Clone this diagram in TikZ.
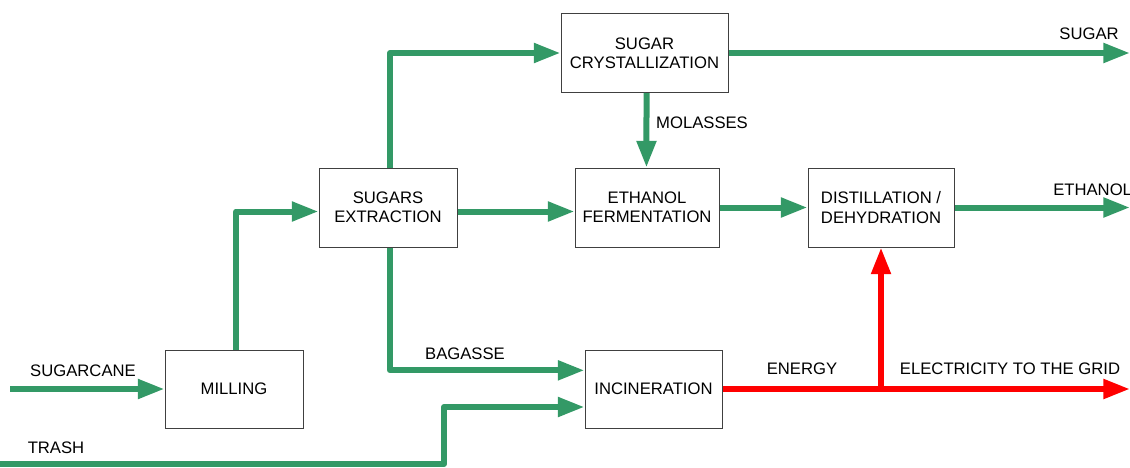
\documentclass[tikz,border=0pt]{standalone}
\usepackage{fontspec}
\setmainfont{Liberation Sans}
\usetikzlibrary{arrows.meta}
\definecolor{cane}{RGB}{51,153,102}
\tikzset{
  box/.style={draw=black!75, line width=0.75pt, fill=white, align=center,
    inner sep=2pt, font=\fontsize{12.5}{14.5}\selectfont},
  flow/.style={draw=cane, line width=4.5pt, line join=round,
    -{Triangle[length=20pt, width=14pt]}},
  power/.style={draw=red, line width=4.5pt,
    -{Triangle[length=20pt, width=14pt]}},
  lbl/.style={font=\fontsize{12.5}{14.5}\selectfont, inner sep=0pt}
}
\begin{document}
\begin{tikzpicture}[x=0.75pt, y=-0.75pt]
\useasboundingbox (0,0) rectangle (1130,467);
\clip (0,0) rectangle (1130,467);

% process boxes
\node[box, minimum width=103.5pt, minimum height=58.5pt] (milling) at (234,389) {MILLING};
\node[box, minimum width=103.5pt, minimum height=59.25pt] (extract) at (388,207.5) {SUGARS\\EXTRACTION};
\node[box, minimum width=125.25pt, minimum height=59.25pt] (cryst) at (644.5,53) {SUGAR\\CRYSTALLIZATION};
\node[box, minimum width=108pt, minimum height=59.25pt] (ferment) at (647,207.5) {ETHANOL\\FERMENTATION};
\node[box, minimum width=109.5pt, minimum height=59.25pt] (distil) at (881,207.5) {DISTILLATION /\\DEHYDRATION};
\node[box, minimum width=102.75pt, minimum height=58.5pt] (incin) at (653.5,389) {INCINERATION};

% free ends
\coordinate (canein) at (10,389);
\coordinate (trashin) at (0,464);
\coordinate (sugarout) at (1130,53);
\coordinate (ethout) at (1130,207.5);
\coordinate (gridout) at (1130,389);
\coordinate (split) at (881,389);

% green flows
\draw[flow] (canein) -- (milling.west);
\draw[flow] ([xshift=1.5pt]milling.north) |- ([yshift=-3pt]extract.west);
\draw[flow] ([xshift=1.5pt]extract.north) |- (cryst.west);
\draw[flow] ([yshift=-3pt]extract.east) -- ([yshift=-3pt]ferment.west);
\draw[flow] ([xshift=1.5pt]extract.south) |- ([yshift=14pt]incin.west);
\draw[flow] (trashin) -| (444,407) -- ([yshift=-13.5pt]incin.west);
\draw[flow] (cryst.east) -- (sugarout);
\draw[flow] ([xshift=1.5pt]cryst.south) -- ([xshift=-0.4pt]ferment.north);
\draw[flow] (ferment.east) -- (distil.west);
\draw[flow] (distil.east) -- (ethout);

% energy
\draw[power] (incin.east) -- (gridout);
\draw[power] (split) -- (distil.south);

% labels
\node[lbl] (lcane) at (83,371) {SUGARCANE};
\node[lbl] (ltrash) at (56,448) {TRASH};
\node[lbl] (lbag) at (465,354) {BAGASSE};
\node[lbl] (lmol) at (702,123) {MOLASSES};
\node[lbl] (lsugar) at (1089,34) {SUGAR};
\node[lbl, anchor=west] (leth) at (1053,190) {ETHANOL};
\node[lbl] (lenergy) at (802,369) {ENERGY};
\node[lbl] (lgrid) at (1010,369) {ELECTRICITY TO THE GRID};

\end{tikzpicture}
\end{document}
